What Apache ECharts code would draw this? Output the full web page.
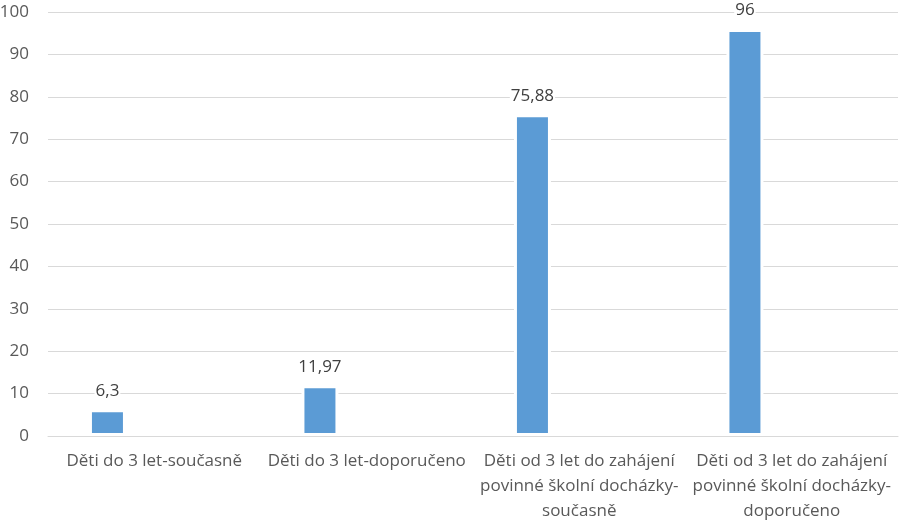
<!DOCTYPE html>
<html>
<head>
<meta charset="utf-8">
<script src="https://cdn.jsdelivr.net/npm/echarts@6/dist/echarts.min.js"></script>
<style>
html,body{margin:0;padding:0;background:#fff;}
#chart{width:900px;height:521px;}
</style>
</head>
<body>
<div id="chart"></div>
<script>
var categories = [
  "Děti do 3 let-současně",
  "Děti do 3 let-doporučeno",
  "Děti od 3 let do zahájení\npovinné školní docházky-\nsoučasně",
  "Děti od 3 let do zahájení\npovinné školní docházky-\ndoporučeno"
];
var values = [6.3, 11.97, 75.88, 96];
var emptySeries = [null, null, null, null];
var yTicks = {min: 0, max: 100, interval: 10};

var FONT = "'Open Sans', 'Liberation Sans', sans-serif";
var chart = echarts.init(document.getElementById('chart'), null, {renderer: 'canvas'});
chart.setOption({
  animation: false,
  backgroundColor: '#ffffff',
  grid: {left: 48, right: 2, top: 12, bottom: 85, containLabel: false, outerBoundsMode: 'none'},
  xAxis: {
    type: 'category',
    data: categories,
    z: 5,
    axisLine: {show: true, lineStyle: {color: '#d9d9d9', width: 1}},
    axisTick: {show: false},
    axisLabel: {
      color: '#595959', fontSize: 17, fontFamily: FONT, lineHeight: 25, margin: 13,
      interval: 0
    }
  },
  yAxis: {
    type: 'value',
    min: yTicks.min, max: yTicks.max, interval: yTicks.interval,
    axisLine: {show: false},
    axisTick: {show: false},
    splitLine: {lineStyle: {color: '#d9d9d9', width: 1}},
    axisLabel: {color: '#595959', fontSize: 17, fontFamily: FONT, margin: 19}
  },
  series: [
    {
      type: 'bar',
      data: values,
      barWidth: 37,
      barGap: '153%',
      itemStyle: {color: '#5b9bd5', borderColor: '#ffffff', borderWidth: 3},
      label: {
        show: true, position: 'top', distance: 9,
        color: '#404040', fontSize: 17, fontFamily: FONT,
        backgroundColor: '#ffffff', padding: [1, 1],
        formatter: function (p) { return String(p.value).replace('.', ','); }
      }
    },
    {
      type: 'bar',
      data: emptySeries,
      barWidth: 37
    }
  ]
});
</script>
</body>
</html>
